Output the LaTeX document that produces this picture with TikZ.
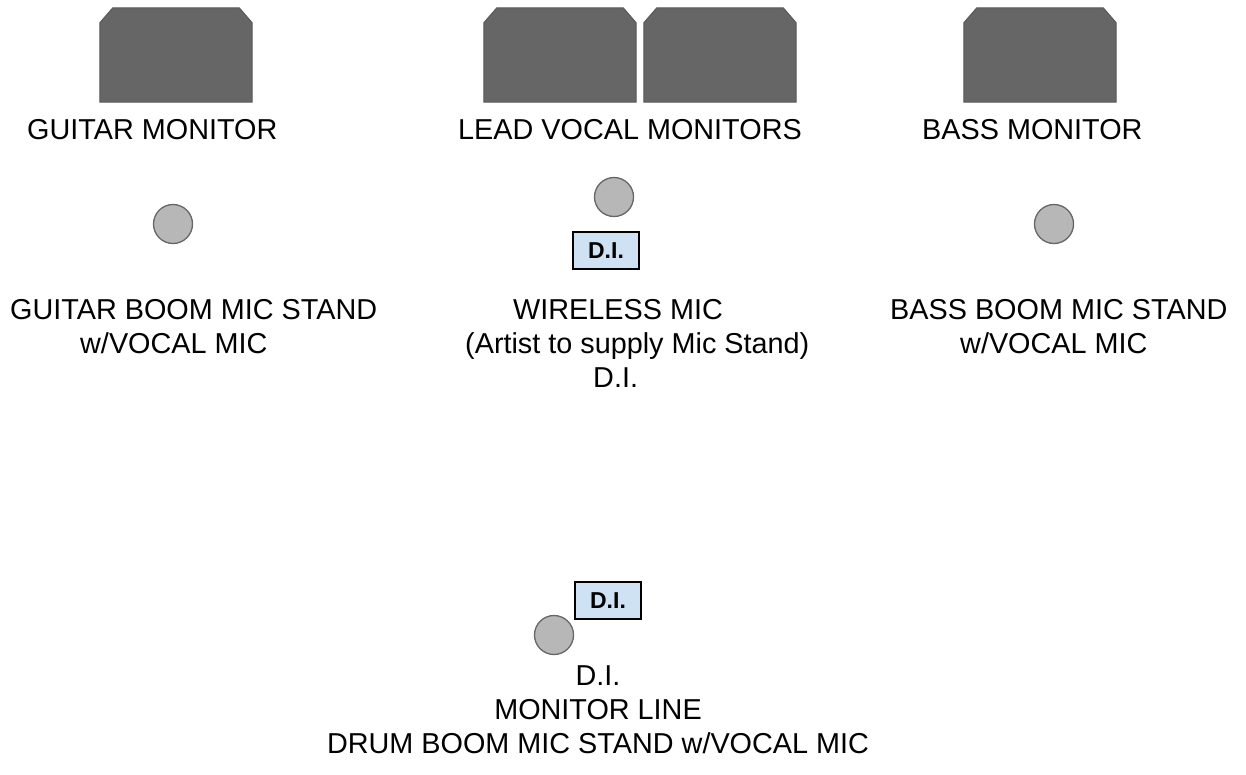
\documentclass[tikz,border=0pt]{standalone}
\usepackage{fontspec}
\setmainfont{Liberation Sans}
\tikzset{
  monbox/.style={rectangle, minimum width=152pt, minimum height=94pt, inner sep=0pt},
  monshape/.style={fill=monfill, draw=monline, line width=1pt, line join=miter},
  mic/.style={circle, minimum size=39pt, inner sep=0pt, fill=micfill, draw=micline, line width=1.3pt},
  dibox/.style={rectangle, minimum width=66pt, minimum height=37pt, inner sep=0pt,
    fill=difill, draw=black, line width=1.4pt, font=\fontsize{23}{26}\selectfont\bfseries},
  lbl/.style={inner sep=0pt, anchor=base west, font=\fontsize{28.8}{34}\selectfont},
  lblc/.style={inner sep=0pt, anchor=base, font=\fontsize{28.8}{34}\selectfont}
}
\definecolor{monfill}{HTML}{666666}
\definecolor{monline}{HTML}{595959}
\definecolor{micfill}{HTML}{B7B7B7}
\definecolor{micline}{HTML}{666666}
\definecolor{difill}{HTML}{CFE2F3}
\newcommand{\drawmonitor}[1]{%
  \filldraw[monshape] ([yshift=-15pt]#1.north west) -- ([xshift=13pt]#1.north west)
    -- ([xshift=-13pt]#1.north east) -- ([yshift=-15pt]#1.north east)
    -- (#1.south east) -- (#1.south west) -- cycle;}
\begin{document}
\begin{tikzpicture}[x=1pt,y=-1pt]
\fill[white] (0,0) rectangle (1246,774);
\useasboundingbox (0,0) rectangle (1246,774);
% monitors
\node[monbox] (gmon) at (176,55) {};
\node[monbox] (lmon1) at (560,55) {};
\node[monbox] (lmon2) at (720,55) {};
\node[monbox] (bmon) at (1040,55) {};
\drawmonitor{gmon}
\drawmonitor{lmon1}
\drawmonitor{lmon2}
\drawmonitor{bmon}
% monitor labels
\node[lbl] (gmonl) at (27,139) {GUITAR MONITOR};
\node[lbl] (lmonl) at (458,139) {LEAD VOCAL MONITORS};
\node[lbl] (bmonl) at (922,139) {BASS MONITOR};
% mics
\node[mic] (gmic) at (173,224) {};
\node[mic] (lmic) at (614,197) {};
\node[mic] (bmic) at (1054,224) {};
\node[mic] (dmic) at (554,635) {};
% DI boxes
\node[dibox] (ldi) at (606,250.5) {D.I.};
\node[dibox] (ddi) at (608,600.5) {D.I.};
% labels
\node[lbl] (gl1) at (10,319) {GUITAR BOOM MIC STAND};
\node[lbl] (gl2) at (80,353) {w/VOCAL MIC};
\node[lbl] (ll1) at (513,319) {WIRELESS MIC};
\node[lbl] (ll2) at (465,353) {(Artist to supply Mic Stand)};
\node[lbl] (ll3) at (593,387) {D.I.};
\node[lbl] (bl1) at (890,319) {BASS BOOM MIC STAND};
\node[lbl] (bl2) at (960,353) {w/VOCAL MIC};
\node[lblc] (dl1) at (598,685) {D.I.};
\node[lblc] (dl2) at (598,719) {MONITOR LINE};
\node[lblc] (dl3) at (598,753) {DRUM BOOM MIC STAND w/VOCAL MIC};
\end{tikzpicture}
\end{document}
